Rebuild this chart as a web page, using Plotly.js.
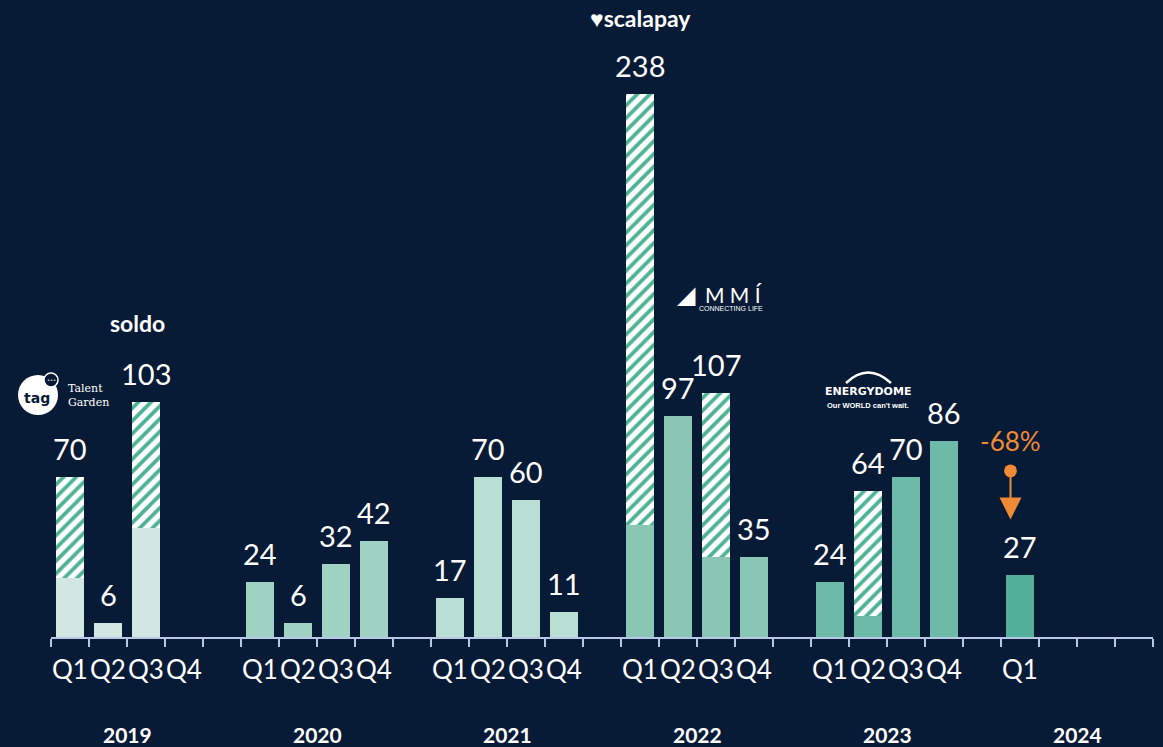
<!DOCTYPE html>
<html>
<head>
<meta charset="utf-8">
<script src="https://cdn.plot.ly/plotly-3.0.1.min.js"></script>
<style>
html,body{margin:0;padding:0;background:#071a36;}
#chart{width:1163px;height:747px;}
</style>
</head>
<body>
<div id="chart"></div>
<script>
// ---- data ----
const years = ['2019','2020','2021','2022','2023','2024'];
const quarters = ['Q1','Q2','Q3','Q4'];
const totals2019 = [70, 6, 103, null];
const solid2019  = [26, 6, 48, null];
const totals2020 = [24, 6, 32, 42];
const solid2020  = [24, 6, 32, 42];
const totals2021 = [17, 70, 60, 11];
const solid2021  = [17, 70, 60, 11];
const totals2022 = [238, 97, 107, 35];
const solid2022  = [49, 97, 35, 35];
const totals2023 = [24, 64, 70, 86];
const solid2023  = [24, 9, 70, 86];
const totals2024 = [27];
const solid2024  = [27];
const changeLabel = '-68%';

const totalsByYear = [totals2019, totals2020, totals2021, totals2022, totals2023, totals2024];
const solidByYear  = [solid2019, solid2020, solid2021, solid2022, solid2023, solid2024];
const yearColors = ['#d0e8e1','#9fd2c3','#b9ded4','#8ac6b4','#6dbaa8','#52b09a'];
const SLOTS_PER_YEAR = 5;

// ---- build ----
const xs = [], solidY = [], hatchY = [], cols = [], tickVals = [], tickText = [];
const labelAnn = [];
totalsByYear.forEach((arr, yi) => {
  arr.forEach((tot, qi) => {
    const x = yi * SLOTS_PER_YEAR + qi;
    tickVals.push(x); tickText.push(quarters[qi]);
    if (tot == null) return;
    const s = solidByYear[yi][qi];
    xs.push(x); solidY.push(s); hatchY.push(tot - s); cols.push(yearColors[yi]);
    labelAnn.push({x: x, y: tot, xref:'x', yref:'y', text: String(tot), showarrow:false,
      xanchor:'center', yanchor:'bottom', yshift: 9,
      font:{family:'Lato, sans-serif', size:29, color:'#ffffff'}});
  });
});

const yearAnn = years.map((yr, yi) => ({
  x: yi * SLOTS_PER_YEAR + 1.5, y: -0.165, xref:'x', yref:'paper', text:'<b>'+yr+'</b>',
  showarrow:false, xanchor:'center', yanchor:'middle',
  font:{family:'Lato, sans-serif', size:21, color:'#ffffff'}
}));

const traces = [
  {type:'bar', x: xs, y: solidY, width:0.74, marker:{color: cols, line:{width:0}},
   hoverinfo:'none', showlegend:false},
  {type:'bar', x: xs, y: hatchY, width:0.74,
   marker:{color:'#ffffff', line:{width:0},
     pattern:{shape:'/', bgcolor:'#ffffff', fgcolor:'#4db394', size:9, solidity:0.42, fillmode:'replace'}},
   hoverinfo:'none', showlegend:false}
];

const W = 1102, H = 593;
const px = v => (v - 51) / W;
const py = v => (637 - v) / H;
const logo = (x, y, text, font, extra) => Object.assign({xref:'paper', yref:'paper', x:px(x), y:py(y),
  text:text, showarrow:false, xanchor:'center', yanchor:'middle', font:font}, extra || {});

const logoAnn = [
  logo(137, 323, '<b>soldo</b>', {family:'Lato, sans-serif', size:23, color:'#ffffff'}),
  logo(37, 398, '<b>tag</b>', {family:'DejaVu Sans, sans-serif', size:14, color:'#071a36'}),
  logo(51, 380, '•••', {family:'DejaVu Sans, sans-serif', size:5, color:'#ffffff'}),
  logo(88, 395, 'Talent<br>Garden', {family:'DejaVu Serif, serif', size:11, color:'#ffffff'},
       {align:'left'}),
  logo(640, 18, '<b>♥scalapay</b>', {family:'Lato, sans-serif', size:23, color:'#ffffff'}),
  logo(733, 294, 'M M Í', {family:'Lato, sans-serif', size:21, color:'#ffffff'}),
  logo(686, 295, '◢', {family:'DejaVu Sans, sans-serif', size:24, color:'#ffffff'}),
  logo(731, 308, 'CONNECTING LIFE', {family:'Liberation Sans Narrow, Liberation Sans, sans-serif', size:7, color:'#ffffff'}),
  logo(868, 392, '<b>ENERGYDOME</b>', {family:'DejaVu Sans, sans-serif', size:11, color:'#ffffff'}),
  logo(868, 406, '<b>Our WORLD can\'t wait.</b>', {family:'Liberation Sans, sans-serif', size:7.5, color:'#ffffff'})
];

const changeAnn = [
  {x: 24.75, y: 86, xref:'x', yref:'y', text: changeLabel, showarrow:false,
   xanchor:'center', yanchor:'middle',
   font:{family:'Lato, sans-serif', size:26, color:'#f08a34'}},
  {x: 24.75, y: 51.5, xref:'x', yref:'y', ax: 24.75, ay: 73.5, axref:'x', ayref:'y', text:'',
   showarrow:true, arrowhead:2, arrowsize:2.2, arrowwidth:2, arrowcolor:'#f08a34',
   arrowside:'end+start', startarrowhead:6, startarrowsize:1.6}
];

const arcPath = 'M ' + px(846) + ',' + py(383) + ' Q ' + px(868) + ',' + py(362) + ' ' + px(891) + ',' + py(383);

const layout = {
  width:1163, height:747,
  paper_bgcolor:'#071a36', plot_bgcolor:'#071a36',
  margin:{l:51, r:10, t:44, b:110},
  barmode:'stack', bargap:0,
  showlegend:false,
  xaxis:{range:[-0.5, 28.5], tickvals: tickVals, ticktext: tickText, ticks:'', ticklen:0,
    ticklabelstandoff: 9,
    tickfont:{family:'Lato, sans-serif', size:26, color:'#ffffff'},
    showgrid:false, zeroline:false, showline:true, linecolor:'#b6c8e6', linewidth:2,
    minor:{tick0:-0.5, dtick:1, ticks:'outside', ticklen:8, tickwidth:2, tickcolor:'#b6c8e6', showgrid:false},
    fixedrange:true},
  yaxis:{range:[0, 260], visible:false, showgrid:false, zeroline:false, fixedrange:true},
  shapes:[
    {type:'circle', xref:'paper', yref:'paper', x0:px(18), x1:px(58), y0:py(415), y1:py(375),
     fillcolor:'#ffffff', line:{width:0}, layer:'below'},
    {type:'circle', xref:'paper', yref:'paper', x0:px(44), x1:px(58), y0:py(387), y1:py(373),
     fillcolor:'#071a36', line:{color:'#ffffff', width:1.5}, layer:'below'},
    {type:'path', xref:'paper', yref:'paper', path: arcPath, line:{color:'#ffffff', width:2.5}}
  ],
  annotations: labelAnn.concat(yearAnn, logoAnn, changeAnn)
};

Plotly.newPlot('chart', traces, layout, {displayModeBar:false, staticPlot:true});
</script>
</body>
</html>
